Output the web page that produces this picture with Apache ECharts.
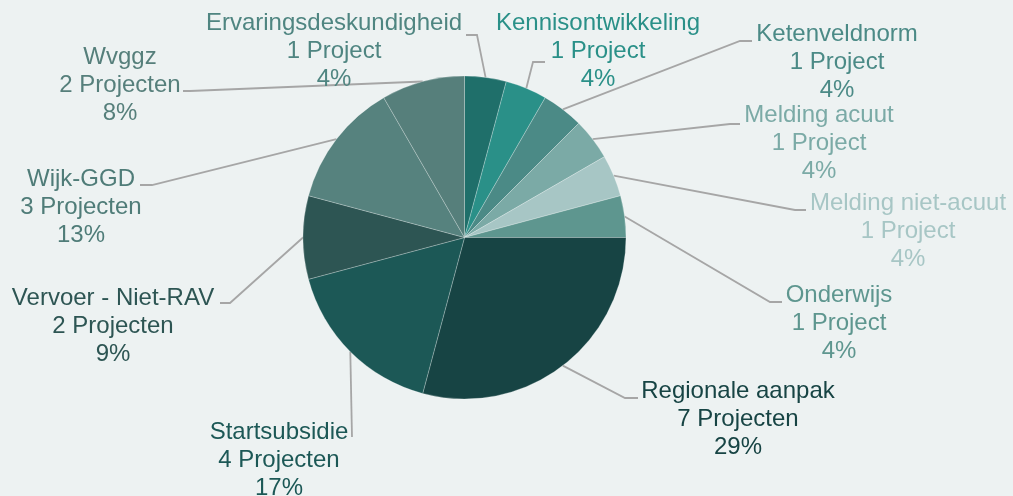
<!DOCTYPE html>
<html>
<head>
<meta charset="utf-8">
<script src="https://cdn.jsdelivr.net/npm/echarts@6/dist/echarts.min.js"></script>
<style>
  html, body { margin: 0; padding: 0; background: #EDF2F2; }
  #chart { width: 1013px; height: 496px; }
</style>
</head>
<body>
<div id="chart"></div>
<script>
// Projects per category
const categories = [
  'Ervaringsdeskundigheid', 'Kennisontwikkeling', 'Ketenveldnorm', 'Melding acuut',
  'Melding niet-acuut', 'Onderwijs', 'Regionale aanpak', 'Startsubsidie',
  'Vervoer - Niet-RAV', 'Wijk-GGD', 'Wvggz'
];
const projects = [1, 1, 1, 1, 1, 1, 7, 4, 2, 3, 2];
const percents = [4, 4, 4, 4, 4, 4, 29, 17, 9, 13, 8];

// Styling
const sliceColors = ['#1F6F6A', '#2A9088', '#4B8A86', '#7BAAA6', '#A7C6C5', '#5E968F',
                     '#174444', '#1C5856', '#2D5553', '#56827E', '#567F7B'];
const labelColors = ['#4F8581', '#2A9088', '#4B8A86', '#7BAAA6', '#A7C6C5', '#5E968F',
                     '#174444', '#1C5856', '#2D5553', '#4F7C78', '#567F7B'];

// Label placement: centre of the label block, then leader-line bend and end points
const labelPos = [[334, 51], [598, 51], [837, 62], [819, 143], [908, 231], [839, 323],
                  [738, 419], [279, 460], [113, 326], [81, 207], [120, 85]];
const lineBends = [
  [[477, 35], [466, 35]],
  [[533, 62], [545, 62]],
  [[740, 41], [752, 41]],
  [[730, 124], [740, 124]],
  [[795, 210], [806, 210]],
  [[770, 302], [782, 302]],
  [[625, 398], [638, 398]],
  [[352, 437], [352, 437]],
  [[230, 303], [220, 303]],
  [[152, 185], [140, 185]],
  [[190, 91], [183, 91]]
];

const center = [464.5, 237.5];
const radius = 161.5;

// Mid-angle (degrees clockwise from 12 o'clock) of each slice
const total = projects.reduce((a, b) => a + b, 0);
const midAngles = [];
let acc = 0;
projects.forEach(v => {
  midAngles.push((acc + v / 2) / total * 360);
  acc += v;
});

const data = categories.map((name, i) => ({
  name: name,
  value: projects[i],
  itemStyle: { color: sliceColors[i] },
  label: { color: labelColors[i] }
}));

const chart = echarts.init(document.getElementById('chart'), null, { renderer: 'canvas' });
chart.setOption({
  backgroundColor: '#EDF2F2',
  animation: false,
  series: [{
    type: 'pie',
    center: center,
    radius: radius,
    startAngle: 90,
    clockwise: true,
    avoidLabelOverlap: false,
    data: data,
    itemStyle: { borderColor: 'rgba(255,255,255,0.35)', borderWidth: 0.7 },
    label: {
      show: true,
      position: 'outside',
      fontFamily: '"Liberation Sans", Arial, sans-serif',
      fontSize: 24,
      lineHeight: 28,
      align: 'center',
      formatter: p => {
        const i = p.dataIndex;
        const unit = projects[i] === 1 ? 'Project' : 'Projecten';
        return p.name + '\n' + projects[i] + ' ' + unit + '\n' + percents[i] + '%';
      }
    },
    labelLine: {
      show: true,
      lineStyle: { color: '#A6A6A6', width: 1.8 }
    },
    labelLayout: p => {
      const i = p.dataIndex;
      const a = midAngles[i] * Math.PI / 180;
      const edge = [center[0] + radius * Math.sin(a), center[1] - radius * Math.cos(a)];
      return {
        x: labelPos[i][0],
        y: labelPos[i][1],
        align: 'center',
        verticalAlign: 'middle',
        labelLinePoints: [edge, lineBends[i][0], lineBends[i][1]]
      };
    }
  }]
});
</script>
</body>
</html>
